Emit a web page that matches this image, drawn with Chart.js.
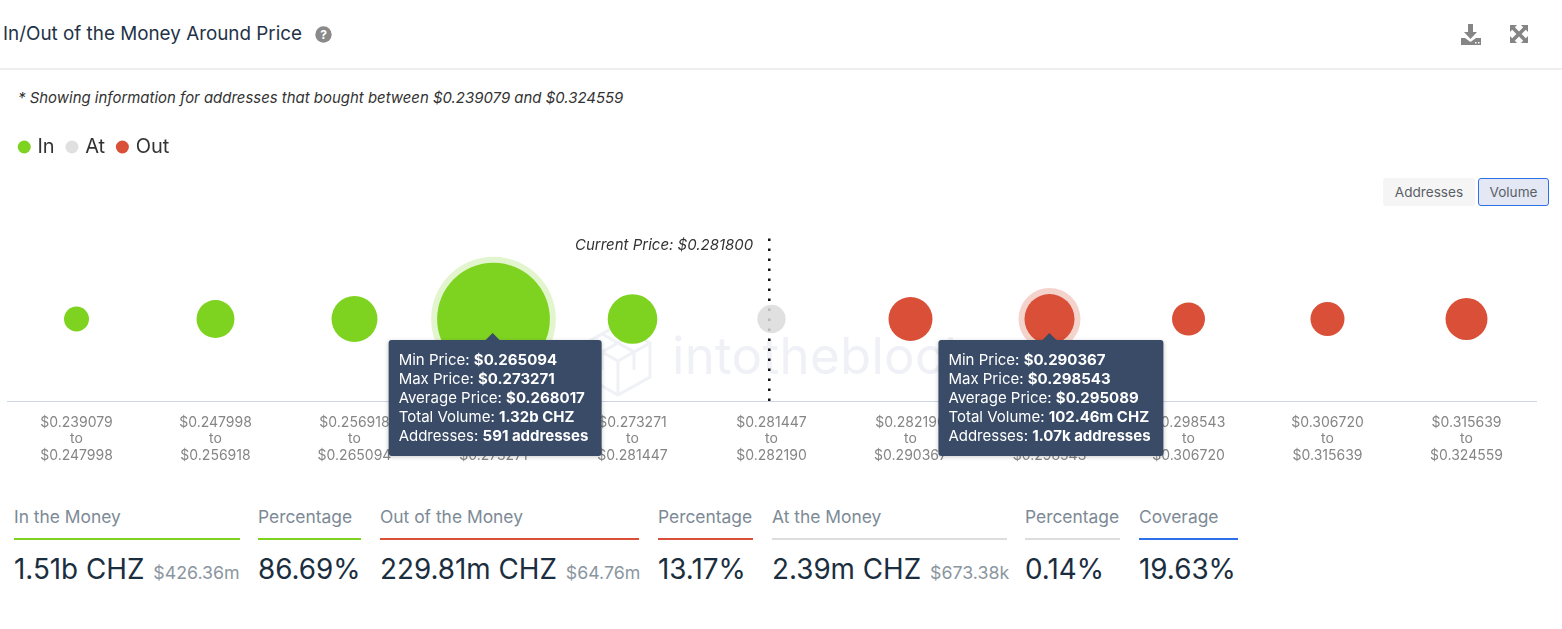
<!DOCTYPE html>
<html>
<head>
<meta charset="utf-8">
<title>In/Out of the Money Around Price</title>
<script src="https://cdn.jsdelivr.net/npm/chart.js@4"></script>
<style>
  html, body { margin: 0; padding: 0; background: #fff; }
  body { width: 1562px; height: 629px; position: relative; overflow: hidden; font-family: Inter, sans-serif; }
  .abs { position: absolute; white-space: nowrap; }

  /* ── Header ───────────────────────────────── */
  #title { left: 3px; top: 23px; font-size: 18.85px; line-height: 22px; color: #1f3347; }
  #rule { left: 0; top: 68px; width: 1562px; height: 2px; background: #eeeeee; }
  #note { left: 18px; top: 89px; font-size: 14.95px; line-height: 18px; font-style: italic; color: #333; }

  /* ── Buttons ──────────────────────────────── */
  .btn { top: 178px; height: 28px; line-height: 28px; font-size: 13.6px; color: #5a5f66; text-align: center; border-radius: 3px; box-sizing: border-box; }
  #btn-addr { left: 1383px; width: 92px; background: #f5f5f5; }
  #btn-vol { left: 1478px; width: 71px; background: #e3e8f4; border: 1px solid #2c6fe8; line-height: 26px; }

  /* ── Watermark & chart ────────────────────── */
  #mark { left: 672px; top: 326px; font-size: 51px; line-height: 60px; color: #eff1f6; letter-spacing: 0.3px; }
  #logo { left: 583px; top: 322px; }
  #chart { position: absolute; left: 0; top: 123px; }

  /* ── Pinned tooltips ──────────────────────── */
  .tip { position: absolute; top: 340px; transform: translateX(-50%); background: #394b67; color: #fff; border-radius: 3px;
         padding: 10px 13px 11px 10px; font-size: 15px; line-height: 19px; white-space: nowrap; box-shadow: 0 1px 4px rgba(0,0,0,.2); }
  .tip b { font-weight: 700; }
  .tip i { position: absolute; top: -7px; width: 0; height: 0; margin-left: -7px;
           border-left: 7px solid transparent; border-right: 7px solid transparent; border-bottom: 7px solid #394b67; }

  /* ── Summary row ──────────────────────────── */
  .stat { position: absolute; top: 505px; }
  .stat .lbl { font-size: 17.4px; line-height: 24px; color: #7d8a96; white-space: nowrap; }
  .stat .bar { height: 2px; margin-top: 9px; }
  .stat .val { margin-top: 12px; font-size: 27.8px; line-height: 34px; color: #1b2e40; white-space: nowrap; }
  .stat .val small { font-size: 17.8px; color: #8b96a0; margin-left: 1px; }
</style>
</head>
<body>
<div class="abs" id="title">In/Out of the Money Around Price</div>
<svg class="abs" style="left:315px;top:26px" width="17" height="17" viewBox="0 0 17 17">
  <circle cx="8.5" cy="8.5" r="8.2" fill="#8a8a8a"/>
  <text x="8.5" y="13" text-anchor="middle" font-family="Inter" font-weight="700" font-size="12" fill="#fff">?</text>
</svg>
<svg class="abs" style="left:1460px;top:24px" width="22" height="22" viewBox="0 0 22 22" fill="#858585">
  <path d="M8 0h5v8h4l-6.500 7L4 8h4z"/>
  <path d="M1 14h4l5.500 4 5.500-4h5v7H1z"/>
  <rect x="15" y="18" width="1.500" height="1.500" fill="#fff"/><rect x="18" y="18" width="1.500" height="1.500" fill="#fff"/>
</svg>
<svg class="abs" style="left:1510px;top:25px" width="18" height="18" viewBox="0 0 18 18" fill="#858585" stroke="none">
  <path d="M0 0h7L4.800 2.200 9 6.400 13.200 2.200 11 0h7v7l-2.200-2.200L11.600 9l4.200 4.200L18 11v7h-7l2.200-2.200L9 11.600l-4.200 4.200L7 18H0v-7l2.200 2.200L6.400 9 2.200 4.800 0 7z"/>
</svg>
<div class="abs" id="rule"></div>
<div class="abs" id="note">* Showing information for addresses that bought between $0.239079 and $0.324559</div>
<div class="abs btn" id="btn-addr">Addresses</div>
<div class="abs btn" id="btn-vol">Volume</div>

<svg class="abs" id="logo" width="70" height="76" viewBox="0 0 70 76" fill="none" stroke="#eff1f6" stroke-width="3">
  <path d="M35 3 67 21V55L35 73 3 55V21z"/><path d="M3 21 35 39 67 21M35 39V73M19 12 51 30V48M51 12 19 30V48"/>
</svg>
<div class="abs" id="mark">intotheblock</div>

<canvas id="chart" width="1562" height="347"></canvas>
<div id="tips"></div>

<div class="stat" style="left:14px;width:226px"><div class="lbl">In the Money</div><div class="bar" style="background:#7ed321"></div><div class="val">1.51b CHZ <small>$426.36m</small></div></div>
<div class="stat" style="left:258px;width:103px"><div class="lbl">Percentage</div><div class="bar" style="background:#7ed321"></div><div class="val">86.69%</div></div>
<div class="stat" style="left:380px;width:259px"><div class="lbl">Out of the Money</div><div class="bar" style="background:#d94f37"></div><div class="val">229.81m CHZ <small>$64.76m</small></div></div>
<div class="stat" style="left:658px;width:95px"><div class="lbl">Percentage</div><div class="bar" style="background:#d94f37"></div><div class="val">13.17%</div></div>
<div class="stat" style="left:772px;width:235px"><div class="lbl">At the Money</div><div class="bar" style="background:#dddddd"></div><div class="val">2.39m CHZ <small>$673.38k</small></div></div>
<div class="stat" style="left:1025px;width:95px"><div class="lbl">Percentage</div><div class="bar" style="background:#dddddd"></div><div class="val">0.14%</div></div>
<div class="stat" style="left:1139px;width:99px"><div class="lbl">Coverage</div><div class="bar" style="background:#2c6fe8"></div><div class="val">19.63%</div></div>

<script>
// ── Data ─────────────────────────────────────────────

const priceEdges = ["0.239079", "0.247998", "0.256918", "0.265094", "0.273271", "0.281447",
                    "0.282190", "0.290367", "0.298543", "0.306720", "0.315639", "0.324559"];
const zones = ["In", "In", "In", "In", "In", "At", "Out", "Out", "Out", "Out", "Out"];
const volumes = [0.115, 28, 72, 1320, 99, 2.39, 59, 102.46, 11.2, 14, 47.5]; // millions of CHZ

const pinnedBands = [3, 7];
const pinnedAverage = { 3: "0.268017", 7: "0.295089" };
const pinnedVolume = { 3: "1.32b CHZ", 7: "102.46m CHZ" };
const pinnedAddresses = { 3: "591 addresses", 7: "1.07k addresses" };

const currentPrice = "0.281800";
const currentPriceBand = 4.984;

// ── Styling ──────────────────────────────────────────

const ZONE_COLORS = { In: "#7ed321", At: "rgba(218,218,218,0.84)", Out: "#d94f37" };
const HALO_COLORS = { In: "rgba(126,211,33,0.22)", Out: "rgba(217,79,55,0.25)" };

Chart.defaults.font.family = "Inter, sans-serif";

// bubble area scale of the original widget, fitted by eye
function bubbleRadius(volume) {
  return 12 + 1.41 * Math.pow(volume, 0.48);
}

function zonePoints(zone) {
  const points = [];
  volumes.forEach((v, i) => {
    if (zones[i] === zone) points.push({ x: i, y: 0, r: bubbleRadius(v) });
  });
  return points;
}

function haloPoints(zone) {
  return pinnedBands
    .filter((i) => zones[i] === zone)
    .map((i) => ({ x: i, y: 0, r: bubbleRadius(volumes[i]) + 6 }));
}

// ── Plugins ──────────────────────────────────────────

// leaves the blank strip between the legend and the plot
const legendSpacer = {
  id: "legendSpacer",
  beforeInit(chart) {
    const fit = chart.legend.fit;
    chart.legend.fit = function () {
      fit.call(chart.legend);
      this.height = 114;
    };
  },
};

const currentPriceLabel = {
  id: "currentPriceLabel",
  afterDraw(chart) {
    const { ctx, scales } = chart;
    ctx.save();
    ctx.font = "italic 15px Inter, sans-serif";
    ctx.fillStyle = "#333";
    ctx.textAlign = "right";
    ctx.textBaseline = "middle";
    ctx.fillText("Current Price: $" + currentPrice, scales.x.getPixelForValue(currentPriceBand) - 16, 122);
    ctx.restore();
  },
};

const pinnedTooltips = {
  id: "pinnedTooltips",
  afterRender(chart) {
    const tips = document.getElementById("tips");
    tips.innerHTML = pinnedBands.map((i) => {
      const x = chart.scales.x.getPixelForValue(i);
      return `
        <div class="tip" style="left:${x + 1.5}px">
          <i style="left:calc(50% - 2px)"></i>
          Min Price: <b>$${priceEdges[i]}</b><br>
          Max Price: <b>$${priceEdges[i + 1]}</b><br>
          Average Price: <b>$${pinnedAverage[i]}</b><br>
          Total Volume: <b>${pinnedVolume[i]}</b><br>
          Addresses: <b>${pinnedAddresses[i]}</b>
        </div>`;
    }).join("");
  },
};

// ── Chart ────────────────────────────────────────────

new Chart(document.getElementById("chart"), {
  type: "bubble",
  data: {
    datasets: [
      ...["In", "At", "Out"].map((zone) => ({
        label: zone,
        data: zonePoints(zone),
        backgroundColor: ZONE_COLORS[zone],
        borderWidth: 0,
        order: 1,
      })),
      ...["In", "Out"].map((zone) => ({
        label: zone + " pinned",
        data: haloPoints(zone),
        backgroundColor: HALO_COLORS[zone],
        borderWidth: 0,
        order: 2,
      })),
      {
        type: "line",
        label: "Current price",
        data: [{ x: currentPriceBand, y: -1 }, { x: currentPriceBand, y: 1 }],
        borderColor: "#111",
        borderWidth: 2.5,
        borderDash: [2.5, 7.5],
        pointRadius: 0,
        order: 3,
      },
    ],
  },
  options: {
    responsive: false,
    animation: false,
    events: [],
    clip: false,
    layout: { autoPadding: false, padding: { left: 7, right: 26, top: 0, bottom: 0 } },
    plugins: {
      tooltip: { enabled: false },
      legend: {
        position: "top",
        align: "start",
        labels: {
          usePointStyle: true,
          pointStyle: "circle",
          boxHeight: 9.2,
          boxWidth: 6.5,
          padding: 14,
          color: "#333",
          font: { size: 20 },
          filter: (item) => item.datasetIndex < 3,
        },
      },
    },
    scales: {
      x: {
        type: "linear",
        min: -0.5,
        max: 10.5,
        grid: { display: false },
        border: { color: "#ccd5e2" },
        afterBuildTicks(scale) {
          scale.ticks = zones.map((_, i) => ({ value: i }));
        },
        afterFit(scale) {
          scale.height = 69;
        },
        ticks: {
          autoSkip: false,
          maxRotation: 0,
          padding: 5,
          color: "#858585",
          font: { size: 14, lineHeight: 1.2 },
          callback: (value) => ["$" + priceEdges[value], "to", "$" + priceEdges[value + 1]],
        },
      },
      y: { display: false, min: -1, max: 1 },
    },
  },
  plugins: [legendSpacer, currentPriceLabel, pinnedTooltips],
});
</script>
</body>
</html>
